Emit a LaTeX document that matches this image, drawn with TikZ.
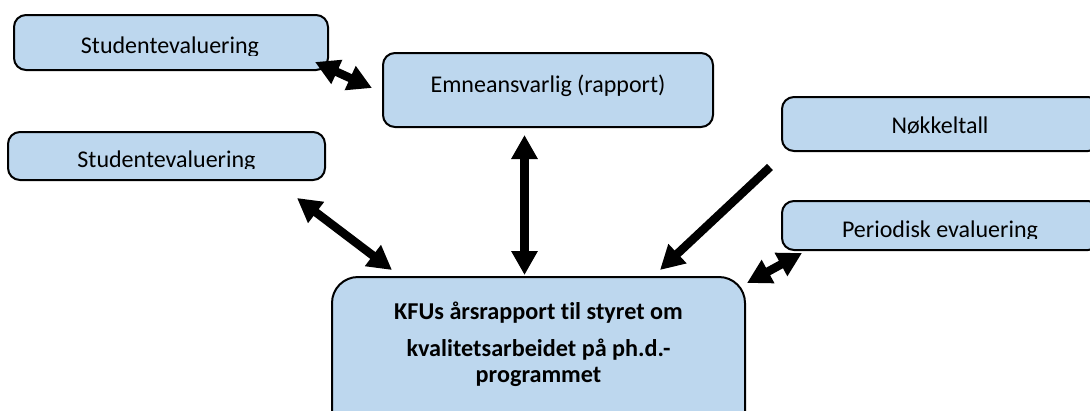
\documentclass[tikz,border=0pt]{standalone}
\usepackage{fontspec}
\setmainfont{Carlito}[Ligatures=NoCommon]
\usetikzlibrary{arrows.meta}
\definecolor{boxblue}{RGB}{189,215,238}
\begin{document}
\begin{tikzpicture}[x=1pt,y=-1pt,
  box/.style={draw=black, line width=2pt, fill=boxblue, rounded corners=12pt, inner sep=0pt},
  lbl/.style={font=\fontsize{24}{28}\selectfont, inner sep=0pt, anchor=base},
  tipA/.tip={Triangle[length=24pt,width=25pt]},
  conn/.style={line width=8.5pt, -tipA},
  dconn/.style={line width=8.5pt, tipA-tipA},
]
\useasboundingbox (0,0) rectangle (1090,410);
\clip (0,0) rectangle (1090,410);

% boxes
\node[box, minimum width=314pt, minimum height=55pt] (s1) at (171,42.5) {};
\node[box, minimum width=330pt, minimum height=74pt] (em) at (548,90) {};
\node[box, minimum width=317pt, minimum height=48pt] (s2) at (166.5,156) {};
\node[box, minimum width=318pt, minimum height=54pt] (nk) at (941,124) {};
\node[box, minimum width=318pt, minimum height=49pt] (pe) at (941,225.5) {};
\node[box, minimum width=413pt, minimum height=170pt, rounded corners=26pt] (kf) at (538.5,362) {};

% labels (some clipped as in the original)
\begin{scope}
  \clip (0,0) rectangle (1090,55);
  \node[lbl] (t1) at (170,53) {Studentevaluering};
\end{scope}
\node[lbl] (t2) at (548,92) {Emneansvarlig (rapport)};
\begin{scope}
  \clip (0,100) rectangle (1090,168);
  \node[lbl] (t3) at (166.5,167) {Studentevaluering};
\end{scope}
\node[lbl] (t4) at (940,133) {Nøkkeltall};
\begin{scope}
  \clip (0,190) rectangle (1090,238);
  \node[lbl] (t5) at (940,237) {Periodisk evaluering};
\end{scope}
\node[lbl, font=\fontsize{24.2}{37}\selectfont\bfseries, align=center, anchor=base] (t6) at (538.5,382)
  {KFUs årsrapport til styret om\\kvalitetsarbeidet på ph.d.-\\[-11pt]programmet};

% connector end points
\coordinate (a1s) at (315,62);
\coordinate (a1e) at (372,88);
\coordinate (a2s) at (524.5,135);
\coordinate (a2e) at (524.5,275);
\coordinate (a3s) at (297,198);
\coordinate (a3e) at (392,270);
\coordinate (a4s) at (770,167);
\coordinate (a4e) at (660,270);
\coordinate (a5s) at (747,283);
\coordinate (a5e) at (802,253);

\draw[dconn] (a1s) -- (a1e);
\draw[dconn] (a2s) -- (a2e);
\draw[dconn] (a3s) -- (a3e);
\draw[conn] (a4s) -- (a4e);
\draw[dconn] (a5s) -- (a5e);
\end{tikzpicture}
\end{document}
